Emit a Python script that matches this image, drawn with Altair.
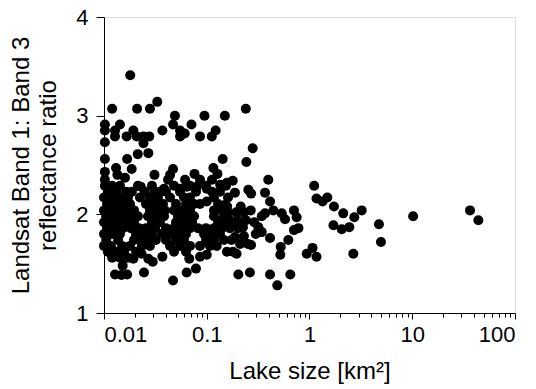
import altair as alt
import pandas as pd

# Lake size [km2] and Band1:Band3 reflectance ratio
lake_size = [
    0.018, 0.012, 0.021, 0.028, 0.033, 0.049, 0.047, 0.095, 0.15, 0.24,
    0.28, 0.037, 0.0102, 0.0102, 0.0102, 0.0143, 0.0128, 0.0128, 0.0166, 0.0193,
    0.0208, 0.0242, 0.0242, 0.0276, 0.055, 0.055, 0.061, 0.071, 0.086, 0.112,
    0.122, 0.0213, 0.027, 0.0168, 0.0102, 0.143, 0.243, 0.0131, 0.0102, 0.016,
    0.031, 0.0186, 0.0135, 0.0102,
    0.047, 0.044, 0.076, 0.116, 0.127, 0.135, 0.179, 0.188, 0.254, 0.27,
    0.397, 0.369, 0.413, 0.157, 0.15, 0.369, 0.176, 0.201, 0.225, 0.188,
    0.0228, 0.0384, 0.0313, 0.055, 0.064, 0.08, 0.1, 0.1, 0.158, 0.214,
    0.268, 0.343, 0.445, 0.537, 0.706, 0.75, 0.578, 0.706, 0.78, 0.622,
    0.525, 0.52, 0.413, 0.27, 0.318, 0.343, 0.195, 0.18, 0.174,
    0.203, 0.263, 0.413, 0.65, 0.486, 0.125, 0.1, 0.086, 0.0676, 0.0785,
    0.0638, 0.047, 0.0245, 0.0298, 0.037, 0.0128, 0.0168, 0.0152, 0.0119, 0.0193,
    0.0232, 0.0148, 0.027, 0.157,
    1.11, 1.17, 1.34, 1.49, 1.73, 2.13, 2.73, 3.22, 1.71, 2.06,
    2.44, 4.74, 4.96, 2.67, 0.94, 1.07, 1.17, 10.2, 36.5, 44.0,
    # dense cluster, small lakes
    0.0102, 0.0120, 0.0143, 0.0214, 0.0293,
    0.0109, 0.0131, 0.0164, 0.0187, 0.025, 0.035,
    0.0100, 0.0120, 0.0143, 0.0171, 0.0224, 0.028, 0.0335,
    0.0107, 0.0128, 0.0153, 0.0179, 0.0256, 0.0307, 0.0375,
    0.0100, 0.0117, 0.014, 0.0167, 0.0196, 0.028, 0.0335,
    0.0105, 0.0125, 0.015, 0.0179, 0.0214, 0.0268, 0.032, 0.0384,
    0.0100, 0.0114, 0.0137, 0.0164, 0.0196, 0.0293, 0.035,
    0.0107, 0.0128, 0.0153, 0.0183, 0.0219, 0.0256, 0.0314,
    0.0100, 0.0120, 0.0143, 0.0205, 0.0245, 0.0293, 0.0367,
    0.0105, 0.0137, 0.0196, 0.0224, 0.0268, 0.032,
    0.0100, 0.0117, 0.015, 0.0179, 0.0234, 0.028,
    0.0109, 0.0131, 0.0157, 0.0205,
    0.012, 0.0143, 0.0171,
    # dense cluster, medium lakes
    0.042, 0.0615, 0.086, 0.1124,
    0.048, 0.0687, 0.0983, 0.154,
    0.0401, 0.0549, 0.0786, 0.1124, 0.1346,
    0.0439, 0.0601, 0.0687, 0.1176, 0.161,
    0.0502, 0.0628, 0.0752, 0.086, 0.1287,
    0.0392, 0.048, 0.0574, 0.0687, 0.1176, 0.1407,
    0.0525, 0.0628, 0.0752, 0.1176, 0.1472,
    0.0502, 0.0601, 0.0719, 0.1287, 0.154,
    0.0401, 0.048, 0.0574, 0.0687, 0.0822, 0.0983, 0.1176, 0.1407,
    0.0439, 0.0525, 0.0628, 0.094, 0.1124, 0.1346,
    0.0401, 0.0502, 0.0601, 0.0983, 0.1176, 0.1472,
    0.0439, 0.0549, 0.0687, 0.086, 0.1075,
    0.048, 0.0628,
    0.161, 0.193, 0.23, 0.168, 0.241, 0.168, 0.201, 0.23, 0.211, 0.252,
    0.29, 0.30,
]

ratio = [
    3.41, 3.07, 3.07, 3.07, 3.14, 3.00, 2.91, 3.00, 3.00, 3.07,
    2.67, 2.85, 2.91, 2.85, 2.73, 2.91, 2.85, 2.79, 2.79, 2.85,
    2.79, 2.79, 2.72, 2.79, 2.85, 2.79, 2.82, 2.91, 2.79, 2.79,
    2.85, 2.61, 2.62, 2.56, 2.56, 2.56, 2.53, 2.47, 2.43, 2.37,
    2.40, 2.46, 2.40, 2.35,
    2.46, 2.40, 2.41, 2.47, 2.41, 2.30, 2.34, 2.22, 2.25, 2.21,
    2.35, 2.22, 2.13, 2.32, 2.095, 2.01, 1.91, 1.94, 1.87, 1.77,
    2.28, 2.26, 2.23, 2.26, 2.28, 2.28, 2.26, 2.13, 2.08, 2.08,
    2.04, 1.98, 2.04, 2.01, 2.04, 1.97, 1.95, 1.84, 1.86, 1.74,
    1.67, 1.59, 1.76, 1.69, 1.87, 1.82, 1.60, 1.62, 1.74,
    1.39, 1.41, 1.39, 1.39, 1.28, 1.68, 1.59, 1.57, 1.55, 1.45,
    1.41, 1.33, 1.41, 1.52, 1.57, 1.39, 1.39, 1.48, 1.59, 1.55,
    1.60, 1.385, 1.55, 1.62,
    2.29, 2.16, 2.13, 2.17, 2.08, 2.01, 1.97, 2.04, 1.89, 1.85,
    1.87, 1.90, 1.72, 1.60, 1.60, 1.66, 1.57, 1.98, 2.04, 1.94,
    2.29, 2.29, 2.29, 2.29, 2.29,
    2.23, 2.23, 2.23, 2.23, 2.23, 2.23,
    2.17, 2.17, 2.17, 2.17, 2.17, 2.17, 2.17,
    2.105, 2.105, 2.105, 2.105, 2.105, 2.105, 2.105,
    2.04, 2.04, 2.04, 2.04, 2.04, 2.04, 2.04,
    1.98, 1.98, 1.98, 1.98, 1.98, 1.98, 1.98, 1.98,
    1.92, 1.92, 1.92, 1.92, 1.92, 1.92, 1.92,
    1.86, 1.86, 1.86, 1.86, 1.86, 1.86, 1.86,
    1.80, 1.80, 1.80, 1.80, 1.80, 1.80, 1.80,
    1.74, 1.74, 1.74, 1.74, 1.74, 1.74,
    1.68, 1.68, 1.68, 1.68, 1.68, 1.68,
    1.62, 1.62, 1.62, 1.62,
    1.56, 1.56, 1.56,
    2.35, 2.35, 2.35, 2.35,
    2.29, 2.29, 2.29, 2.29,
    2.23, 2.23, 2.23, 2.23, 2.23,
    2.17, 2.17, 2.17, 2.17, 2.17,
    2.105, 2.105, 2.105, 2.105, 2.105,
    2.04, 2.04, 2.04, 2.04, 2.04, 2.04,
    1.98, 1.98, 1.98, 1.98, 1.98,
    1.92, 1.92, 1.92, 1.92, 1.92,
    1.86, 1.86, 1.86, 1.86, 1.86, 1.86, 1.86, 1.86,
    1.80, 1.80, 1.80, 1.80, 1.80, 1.80,
    1.74, 1.74, 1.74, 1.74, 1.74, 1.74,
    1.68, 1.68, 1.68, 1.68, 1.68,
    1.62, 1.62,
    2.02, 2.02, 2.02, 1.94, 1.94, 1.86, 1.86, 1.78, 1.70, 1.70,
    1.92, 1.80,
]

major_x = [0.01, 0.1, 1, 10, 100]
minor_mult = [2, 3, 4, 5, 6, 7, 8, 9]
x_ticks = sorted(major_x + [round(m * d, 4) for d in major_x[:-1] for m in minor_mult])
y_ticks = [1, 2, 3, 4]

df = pd.DataFrame({"size": lake_size, "ratio": ratio})

is_major = "abs(log(datum.value)/LN10 - round(log(datum.value)/LN10)) < 0.001"
FONT = "Liberation Sans"

chart = alt.Chart(df).mark_circle(size=100, color="black", opacity=1).encode(
    x=alt.X(
        "size:Q",
        scale=alt.Scale(type="log", domain=[0.01, 100], nice=False),
        axis=alt.Axis(
            values=x_ticks,
            labelExpr=f"({is_major}) ? format(datum.value, '~g') : ''",
            labelOverlap=False,
            tickSize={"condition": {"test": is_major, "value": 6}, "value": 4},
            tickColor="black",
            domainColor="black",
            labelPadding=5,
            labelFont=FONT,
            labelFontSize=22,
            labelColor="black",
            titleFont=FONT,
            titleFontSize=24,
            titleFontWeight="normal",
            titleColor="black",
            titlePadding=14,
            grid=False,
        ),
        title="Lake size [km²]",
    ),
    y=alt.Y(
        "ratio:Q",
        scale=alt.Scale(domain=[1, 4], nice=False, zero=False),
        axis=alt.Axis(
            values=y_ticks,
            tickSize=8,
            tickColor="black",
            domainColor="black",
            labelPadding=8,
            labelFont=FONT,
            labelFontSize=22,
            labelColor="black",
            titleFont=FONT,
            titleFontSize=24,
            titleFontWeight="normal",
            titleColor="black",
            titleLineHeight=27,
            titleAngle=270,
            titleAlign="center",
            titleBaseline="bottom",
            titleX=-71,
            titleY=148,
            grid=False,
        ),
        title=["Landsat Band 1: Band 3", "reflectance ratio"],
    ),
).properties(
    width=411,
    height=296,
    padding={"left": 104, "top": 17, "right": 21, "bottom": 76},
    autosize="none",
).configure_view(
    stroke="black", strokeWidth=1
).configure(background="white")

chart.save("out.html", embed_options={"renderer": "svg", "actions": False})
